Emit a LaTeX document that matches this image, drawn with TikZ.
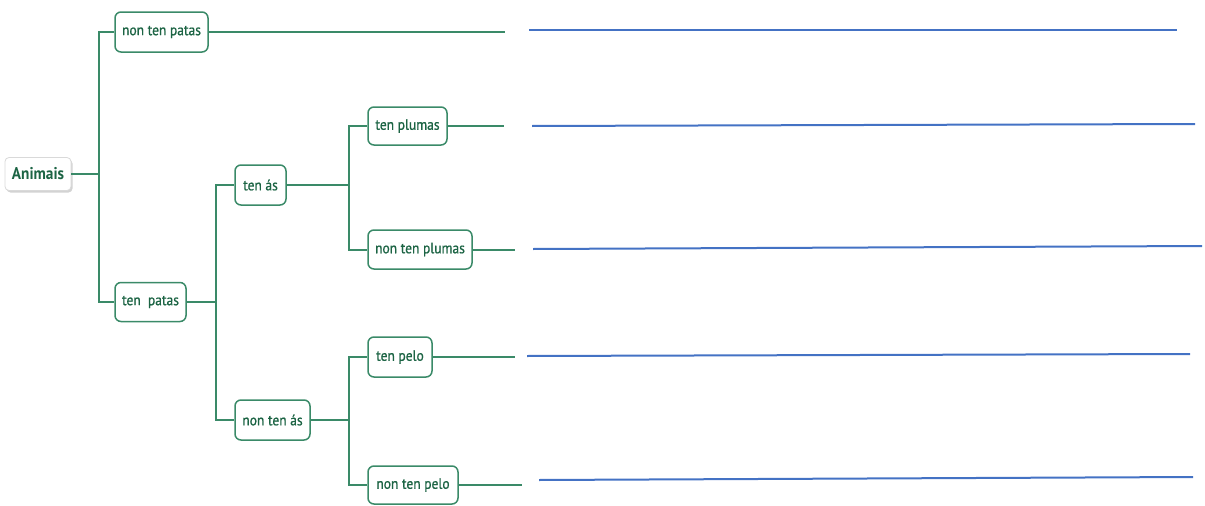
\documentclass[tikz,border=0pt]{standalone}
\usepackage{fontspec}
\setmainfont{PT Sans}[FakeStretch=0.9]
\newfontfamily\leaffont{PT Sans}[FakeStretch=0.9,FakeBold=0.8]
\usetikzlibrary{shadows}
\definecolor{mmgreen}{RGB}{58,138,104}
\definecolor{mmtext}{RGB}{28,100,68}
\definecolor{ansblue}{RGB}{68,114,196}
\tikzset{
  leaf/.style={draw=mmgreen, line width=1.5pt, rounded corners=6pt, fill=white,
    text=mmtext, font=\leaffont\fontsize{15}{17}\selectfont, inner sep=0pt, anchor=center},
  rootbox/.style={draw=black!15, line width=0.8pt, rounded corners=4pt, fill=white,
    text=mmtext, font=\fontsize{17}{19}\selectfont\bfseries, inner sep=0pt,
    drop shadow={shadow xshift=1.5pt, shadow yshift=-2pt, opacity=0.35}},
  link/.style={draw=mmgreen, line width=2pt},
  answer/.style={draw=ansblue, line width=2pt}
}
\begin{document}
\begin{tikzpicture}[x=1pt,y=-1pt]
\useasboundingbox (0,0) rectangle (1205,506);
% nodes
\node[rootbox, minimum width=66pt, minimum height=33pt] (anim) at (38,174) {Animais};
\node[leaf, minimum width=93pt, minimum height=40pt] (ntp) at (161.5,32) {non ten patas};
\node[leaf, minimum width=71pt, minimum height=39pt] (tp) at (150.5,302) {ten~ patas};
\node[leaf, minimum width=51pt, minimum height=40pt] (ta) at (260.5,185) {ten ás};
\node[leaf, minimum width=75pt, minimum height=40pt] (nta) at (272.5,420) {non ten ás};
\node[leaf, minimum width=79pt, minimum height=38pt] (tpl) at (407.5,126) {ten plumas};
\node[leaf, minimum width=104pt, minimum height=39pt] (ntpl) at (420,249.5) {non ten plumas};
\node[leaf, minimum width=64pt, minimum height=40pt] (tpe) at (400,357) {ten pelo};
\node[leaf, minimum width=90pt, minimum height=38pt] (ntpe) at (413,485) {non ten pelo};
% junctions
\draw[link] (anim.east) -- ++(28,0) coordinate (j1);
\draw[link] (j1) |- (ntp.west);
\draw[link] (j1) |- (tp.west);
\draw[link] (tp.east) -- ++(29,0) coordinate (j2);
\draw[link] (j2) |- (ta.west);
\draw[link] (j2) |- (nta.west);
\draw[link] (ta.east) -- ++(62,0) coordinate (j3);
\draw[link] (j3) |- (tpl.west);
\draw[link] (j3) |- (ntpl.west);
\draw[link] (nta.east) -- ++(38,0) coordinate (j4);
\draw[link] (j4) |- (tpe.west);
\draw[link] (j4) |- (ntpe.west);
% tails
\coordinate (t1) at (505,32);
\coordinate (t2) at (504,126);
\coordinate (t3) at (515,249.5);
\coordinate (t4) at (515,357);
\coordinate (t5) at (522,485);
\draw[link] (ntp.east) -- (t1);
\draw[link] (tpl.east) -- (t2);
\draw[link] (ntpl.east) -- (t3);
\draw[link] (tpe.east) -- (t4);
\draw[link] (ntpe.east) -- (t5);
% answer lines
\coordinate (a1) at (529,30);   \coordinate (b1) at (1177,30);
\coordinate (a2) at (532,126);  \coordinate (b2) at (1195,124);
\coordinate (a3) at (533,249);  \coordinate (b3) at (1202,246);
\coordinate (a4) at (527,356);  \coordinate (b4) at (1190,354);
\coordinate (a5) at (539,480);  \coordinate (b5) at (1193,477);
\draw[answer] (a1) -- (b1);
\draw[answer] (a2) -- (b2);
\draw[answer] (a3) -- (b3);
\draw[answer] (a4) -- (b4);
\draw[answer] (a5) -- (b5);
\end{tikzpicture}
\end{document}
